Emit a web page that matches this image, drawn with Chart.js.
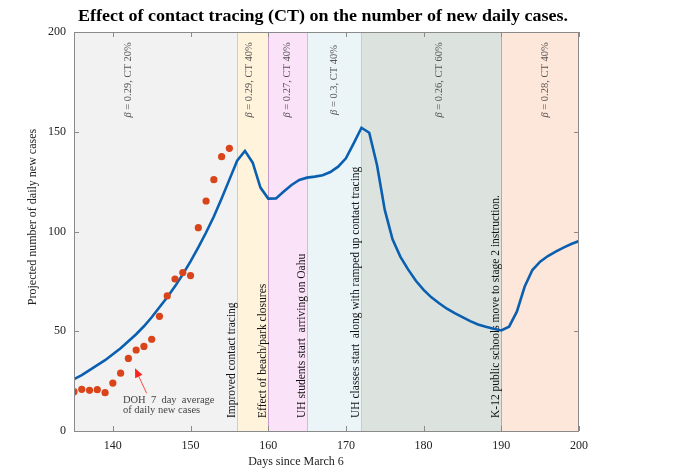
<!DOCTYPE html>
<html>
<head>
<meta charset="utf-8">
<script src="https://cdn.jsdelivr.net/npm/chart.js@4.4.1/dist/chart.umd.min.js"></script>
<style>
  html, body { margin: 0; padding: 0; background: #fff; }
  #wrap { width: 676px; height: 469px; }
</style>
</head>
<body>
<div id="wrap"><canvas id="chart" width="676" height="469"></canvas></div>
<script>
// Effect of contact tracing on projected daily new cases

const days = [135, 136, 137, 138, 139, 140, 141, 142, 143, 144, 145, 146, 147, 148, 149, 150,
  151, 152, 153, 154, 155, 156, 157, 158, 159, 160, 161, 162, 163, 164, 165, 166, 167, 168,
  169, 170, 171, 172, 173, 174, 175, 176, 177, 178, 179, 180, 181, 182, 183, 184, 185, 186,
  187, 188, 189, 190, 191, 192, 193, 194, 195, 196, 197, 198, 199, 200];

const projected = [26, 28, 30.5, 33, 35.5, 38.5, 41.5, 45, 48.5, 52.5, 57, 62, 67, 72.5, 78.5, 85,
  92, 99.5, 107.5, 116.5, 126, 135.5, 140.4, 134.5, 122, 116.5, 116.6, 120, 123.3, 125.8, 127, 127.5,
  128.2, 129.8, 132.5, 136.7, 144.2, 152, 149.5, 133.3, 110.8, 96.1, 87.4, 81, 75.3, 70.7, 67, 64,
  61.3, 59.1, 57.1, 55.1, 53.4, 52.2, 51.2, 50.4, 52.3, 59.8, 72.3, 80.7, 84.9, 87.7, 89.9, 91.9,
  93.7, 95.2];

const dohDays = [135, 136, 137, 138, 139, 140, 141, 142, 143, 144, 145, 146, 147, 148, 149, 150,
  151, 152, 153, 154, 155];
const dohCases = [19.7, 20.9, 20.4, 20.7, 19.2, 24, 29, 36.4, 40.6, 42.4, 46, 57.5, 67.7, 76.2,
  79.4, 77.9, 101.9, 115.3, 126, 137.5, 141.7];

// shaded periods
const bandStart = [135, 156, 160, 165, 172, 190];
const bandEnd = [156, 160, 165, 172, 190, 200];
const bandLabels = ['0.29, CT 20%', '0.29, CT 40%', '0.27, CT 40%', '0.3, CT 40%', '0.26, CT 60%', '0.28, CT 40%'];
const bandLabelDay = [142, 157.5, 162.5, 168.5, 182, 195.6];
const bandFill = ['#f2f2f2', '#fff3dc', '#fae3f8', '#ebf5f8', '#dce3de', '#fde6da'];
const bandEdge = [null, '#f3c98b', '#c39bc9', '#bccdb0', '#a9d8e8', '#c9a3a0'];

// events
const eventDays = [156, 160, 165, 172, 190];
const eventLabels = [
  'Improved contact tracing',
  'Effect of beach/park closures',
  'UH students start  arriving on Oahu',
  'UH classes start  along with ramped up contact tracing',
  'K-12 public schools move to stage 2 instruction.'
];

const xTicks = [140, 150, 160, 170, 180, 190, 200];
const yTicks = [0, 50, 100, 150, 200];

const SERIF = "'Liberation Serif', 'Times New Roman', serif";

const decorations = {
  id: 'decorations',
  beforeDatasetsDraw(chart) {
    const { ctx, chartArea: a, scales: { x, y } } = chart;
    ctx.save();
    // bands
    bandStart.forEach((s, i) => {
      const x0 = x.getPixelForValue(s);
      const x1 = x.getPixelForValue(bandEnd[i]);
      ctx.fillStyle = bandFill[i];
      ctx.fillRect(x0, a.top, x1 - x0, a.bottom - a.top);
    });
    bandStart.forEach((s, i) => {
      if (!bandEdge[i]) return;
      const px = Math.round(x.getPixelForValue(s)) + 0.5;
      ctx.strokeStyle = bandEdge[i];
      ctx.lineWidth = 1;
      ctx.beginPath();
      ctx.moveTo(px, a.top);
      ctx.lineTo(px, a.bottom);
      ctx.stroke();
    });
    // band labels (rotated)
    ctx.fillStyle = '#555';
    bandLabels.forEach((t, i) => {
      ctx.save();
      ctx.translate(x.getPixelForValue(bandLabelDay[i]), y.getPixelForValue(176));
      ctx.rotate(-Math.PI / 2);
      ctx.textBaseline = 'middle';
      ctx.font = '10.5px ' + SERIF;
      const w = ctx.measureText('\u03B2 = ' + t).width;
      ctx.textAlign = 'left';
      ctx.font = 'italic 10.5px ' + SERIF;
      ctx.fillText('\u03B2', -w / 2, 0);
      const bw = ctx.measureText('\u03B2').width;
      ctx.font = '10.5px ' + SERIF;
      ctx.fillText(' = ' + t, -w / 2 + bw, 0);
      ctx.restore();
    });
    // event labels
    ctx.fillStyle = '#111';
    ctx.font = '11.5px ' + SERIF;
    eventLabels.forEach((t, i) => {
      ctx.save();
      ctx.translate(x.getPixelForValue(eventDays[i]) - 5, a.bottom - 13);
      ctx.rotate(-Math.PI / 2);
      ctx.textAlign = 'left';
      ctx.textBaseline = 'middle';
      ctx.fillText(t, 0, 0);
      ctx.restore();
    });
    ctx.restore();
  },
  afterDatasetsDraw(chart) {
    const { ctx, chartArea: a, scales: { x, y } } = chart;
    ctx.save();
    // box and inward ticks
    ctx.strokeStyle = '#8a8a8a';
    ctx.lineWidth = 1;
    ctx.strokeRect(Math.round(a.left) + 0.5, Math.round(a.top) + 0.5,
      Math.round(a.right - a.left) - 1, Math.round(a.bottom - a.top));
    ctx.beginPath();
    xTicks.forEach(v => {
      const px = Math.round(x.getPixelForValue(v)) + 0.5;
      ctx.moveTo(px, a.bottom); ctx.lineTo(px, a.bottom - 5);
      ctx.moveTo(px, a.top); ctx.lineTo(px, a.top + 5);
    });
    yTicks.forEach(v => {
      const py = Math.round(y.getPixelForValue(v)) + 0.5;
      ctx.moveTo(a.left, py); ctx.lineTo(a.left + 5, py);
      ctx.moveTo(a.right, py); ctx.lineTo(a.right - 5, py);
    });
    ctx.stroke();

    // arrow to the DOH points
    const tx = x.getPixelForValue(142.85), ty = y.getPixelForValue(31.4);
    const sx = x.getPixelForValue(144.35), sy = y.getPixelForValue(18.9);
    const ang = Math.atan2(ty - sy, tx - sx);
    ctx.strokeStyle = '#ff4a4a';
    ctx.fillStyle = '#ff2020';
    ctx.beginPath();
    ctx.moveTo(sx, sy);
    ctx.lineTo(tx - 6 * Math.cos(ang), ty - 6 * Math.sin(ang));
    ctx.stroke();
    ctx.beginPath();
    ctx.moveTo(tx, ty);
    ctx.lineTo(tx - 9 * Math.cos(ang) + 4 * Math.sin(ang), ty - 9 * Math.sin(ang) - 4 * Math.cos(ang));
    ctx.lineTo(tx - 9 * Math.cos(ang) - 4 * Math.sin(ang), ty - 9 * Math.sin(ang) + 4 * Math.cos(ang));
    ctx.closePath();
    ctx.fill();

    ctx.fillStyle = '#444';
    ctx.font = '10.5px ' + SERIF;
    ctx.textAlign = 'left';
    ctx.textBaseline = 'middle';
    ctx.fillText('DOH  7  day  average', x.getPixelForValue(141.3), y.getPixelForValue(15.5));
    ctx.fillText('of daily new cases', x.getPixelForValue(141.3), y.getPixelForValue(10.5));

    // title, stretched to the width of the original
    const title = 'Effect of contact tracing (CT) on the number of new daily cases.';
    ctx.fillStyle = '#000';
    ctx.textAlign = 'center';
    ctx.font = 'bold 16.5px ' + SERIF;
    const tw = ctx.measureText(title).width;
    ctx.save();
    ctx.translate(323, 17);
    ctx.scale(490 / tw, 1);
    ctx.fillText(title, 0, 0);
    ctx.restore();

    ctx.font = '12px ' + SERIF;
    ctx.fillStyle = '#222';
    ctx.fillText('Days since March 6', 296, 462);
    ctx.save();
    ctx.translate(33, 217);
    ctx.rotate(-Math.PI / 2);
    ctx.fillText('Projected number of daily new cases', 0, 0);
    ctx.restore();
    ctx.restore();
  }
};

new Chart(document.getElementById('chart'), {
  type: 'scatter',
  data: {
    datasets: [
      {
        label: 'DOH 7 day average',
        data: dohDays.map((d, i) => ({ x: d, y: dohCases[i] })),
        backgroundColor: '#d9441a',
        borderColor: '#d9441a',
        pointRadius: 3.6,
        pointBorderWidth: 0
      },
      {
        type: 'line',
        label: 'Projected',
        data: days.map((d, i) => ({ x: d, y: projected[i] })),
        borderColor: '#0a5fb0',
        borderWidth: 2.6,
        pointRadius: 0,
        tension: 0,
        fill: false
      }
    ]
  },
  options: {
    responsive: false,
    animation: false,
    devicePixelRatio: 1,
    layout: { padding: { top: 32, right: 97, left: 0, bottom: 0 } },
    plugins: {
      legend: { display: false },
      tooltip: { enabled: false },
      title: { display: false }
    },
    scales: {
      x: {
        type: 'linear',
        min: 135,
        max: 200,
        afterFit: s => { s.height = 38; },
        afterBuildTicks: s => { s.ticks = xTicks.map(v => ({ value: v })); },
        grid: { display: false, drawTicks: false },
        border: { display: false },
        ticks: { padding: 8, color: '#222', font: { family: SERIF, size: 12 } }
      },
      y: {
        min: 0,
        max: 200,
        afterFit: s => { s.width = 74; },
        afterBuildTicks: s => { s.ticks = yTicks.map(v => ({ value: v })); },
        grid: { display: false, drawTicks: false },
        border: { display: false },
        ticks: { padding: 8, color: '#222', font: { family: SERIF, size: 12 } }
      }
    }
  },
  plugins: [decorations]
});
</script>
</body>
</html>
